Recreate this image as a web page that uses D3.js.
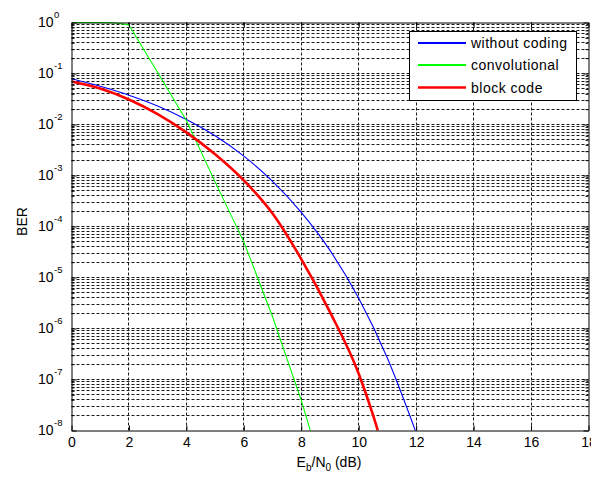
<!DOCTYPE html>
<html><head><meta charset="utf-8">
<script src="https://cdn.jsdelivr.net/npm/d3@7"></script>
<style>
body{margin:0;background:#fff;}
text{font-family:"Liberation Sans",Arial,sans-serif;fill:#000;}
</style>
</head><body>
<svg id="c" width="591" height="477"></svg>
<script>
// ---- data ----
const xTickValues = [0, 2, 4, 6, 8, 10, 12, 14, 16, 18];
const yTickExponents = [0, -1, -2, -3, -4, -5, -6, -7, -8];

const uncodedX = [0, 1, 2, 3, 4, 5, 6, 7, 8, 9, 10, 11, 12];
const uncodedBER = [0.079, 0.056, 0.0375, 0.023, 0.0125, 6.0e-3, 2.4e-3, 7.7e-4, 1.9e-4, 3.4e-5, 3.9e-6, 2.6e-7, 9e-9];

const convX = [0, 0.5, 1, 1.5, 2, 3, 4, 5, 6, 7, 8, 8.5];
const convBER = [1, 1, 1, 0.99, 0.89, 0.105, 1.2e-2, 7.5e-4, 5e-5, 1.7e-6, 3.9e-8, 4.5e-9];

const blockX = [0, 1, 2, 3, 4, 5, 6, 7, 8, 9, 10, 10.5, 11];
const blockBER = [0.07, 0.051, 0.031, 0.016, 7.0e-3, 2.6e-3, 8.0e-4, 1.8e-4, 2.3e-5, 2.1e-6, 1.3e-7, 2.0e-8, 2.2e-9];

const legendLabels = ["without coding", "convolutional", "block code"];
const seriesColors = ["#0000ff", "#00ff00", "#ff0000"];

// ---- layout ----
const W = 591, H = 477;
const L = 71.5, R = 588.5, T = 22.5, B = 430.5;
const FONT = 14;

const svg = d3.select("#c");
svg.append("rect").attr("width", W).attr("height", H).attr("fill", "#fff");

const x = d3.scaleLinear().domain([0, 18]).range([L, R]);
const y = d3.scaleLog().domain([1e-8, 1]).range([B, T]);
const crisp = v => Math.round(v - 0.5) + 0.5;

// ---- grid ----
const minorVals = [];
for (let k = -8; k <= -1; k++) for (let m = 2; m <= 9; m++) minorVals.push(m * Math.pow(10, k));
const majorVals = yTickExponents.map(e => Math.pow(10, e));
const hGrid = majorVals.filter(v => v < 1 && v > 1e-8).concat(minorVals);
const g = svg.append("g").attr("stroke", "#1a1a1a").attr("stroke-width", 1)
  .attr("stroke-dasharray", "3,2").attr("fill", "none");
g.selectAll("line.h").data(hGrid).join("line").attr("class", "h")
  .attr("x1", L).attr("x2", R)
  .attr("y1", d => crisp(y(d))).attr("y2", d => crisp(y(d)));
g.selectAll("line.v").data(xTickValues.filter(d => d > 0 && d < 18)).join("line").attr("class", "v")
  .attr("y1", T).attr("y2", B)
  .attr("x1", d => crisp(x(d))).attr("x2", d => crisp(x(d)));

// ---- curves ----
svg.append("clipPath").attr("id", "clip").append("rect")
  .attr("x", L).attr("y", T - 1).attr("width", R - L).attr("height", B - T + 1);
const plot = svg.append("g").attr("clip-path", "url(#clip)");
const mk = (xs, ys) => xs.map((v, i) => [v, ys[i]]);
const lineSmooth = d3.line().x(d => x(d[0])).y(d => y(d[1])).curve(d3.curveMonotoneX);
const lineStraight = d3.line().x(d => x(d[0])).y(d => y(d[1]));
plot.append("path").datum(mk(uncodedX, uncodedBER)).attr("d", lineSmooth)
  .attr("fill", "none").style("stroke", seriesColors[0]).attr("stroke-width", 1.1);
plot.append("path").datum(mk(convX, convBER)).attr("d", lineStraight)
  .attr("fill", "none").style("stroke", seriesColors[1]).attr("stroke-width", 1.1);
plot.append("path").datum(mk(blockX, blockBER)).attr("d", lineSmooth)
  .attr("fill", "none").style("stroke", seriesColors[2]).attr("stroke-width", 2.6);

// ---- axes ----
const xAxisB = d3.axisBottom(x).tickValues(xTickValues).tickSizeInner(-5).tickSizeOuter(0)
  .tickPadding(7).tickFormat(d => d);
const gxb = svg.append("g").attr("transform", `translate(0,${B})`).call(xAxisB);
gxb.selectAll("text").attr("font-size", FONT).style("font-family", "'Liberation Sans',Arial,sans-serif");
svg.append("g").attr("transform", `translate(0,${T})`)
  .call(d3.axisTop(x).tickValues(xTickValues).tickSizeInner(-5).tickSizeOuter(0).tickFormat(""));

svg.append("g").attr("transform", `translate(${L},0)`)
  .call(d3.axisLeft(y).tickValues(majorVals).tickSizeInner(-5).tickSizeOuter(0).tickFormat(""));
svg.append("g").attr("transform", `translate(${L},0)`)
  .call(d3.axisLeft(y).tickValues(minorVals).tickSizeInner(-3).tickSizeOuter(0).tickFormat(""))
  .select(".domain").remove();
svg.append("g").attr("transform", `translate(${R},0)`)
  .call(d3.axisRight(y).tickValues(majorVals).tickSizeInner(-5).tickSizeOuter(0).tickFormat(""));
svg.append("g").attr("transform", `translate(${R},0)`)
  .call(d3.axisRight(y).tickValues(minorVals).tickSizeInner(-3).tickSizeOuter(0).tickFormat(""))
  .select(".domain").remove();
svg.selectAll(".tick line").attr("stroke", "#000");
svg.selectAll(".domain").attr("stroke", "#000");

// y tick labels 10^e
const lab = svg.append("g");
yTickExponents.forEach(e => {
  const yy = y(Math.pow(10, e));
  lab.append("text").attr("x", 53.5).attr("y", yy + 4.5).attr("text-anchor", "end")
    .attr("font-size", FONT).text("10");
  lab.append("text").attr("x", 54).attr("y", yy - 4.5).attr("text-anchor", "start")
    .attr("font-size", 9.5).text(String(e));
});

// axis titles
const xt = svg.append("text").attr("x", (L + R) / 2 - 1).attr("y", 467).attr("text-anchor", "middle")
  .attr("font-size", FONT);
xt.append("tspan").text("E");
xt.append("tspan").attr("font-size", 10).attr("dy", 4).text("b");
xt.append("tspan").attr("dy", -4).text("/N");
xt.append("tspan").attr("font-size", 10).attr("dy", 4).text("0");
xt.append("tspan").attr("dy", -4).text(" (dB)");

svg.append("text").attr("transform", `translate(27,${(T + B) / 2 - 5}) rotate(-90)`)
  .attr("text-anchor", "middle").attr("font-size", FONT).text("BER");

// ---- legend ----
const lg = svg.append("g");
lg.append("rect").attr("x", 409.5).attr("y", 31.5).attr("width", 167).attr("height", 69)
  .style("fill", "#fff").style("stroke", "#000").attr("stroke-width", 1);
const legendY = [43, 65, 87.5];
const legendW = [1.8, 1.8, 2.6];
legendLabels.forEach((t, i) => {
  lg.append("path")
    .attr("d", d3.line()([[418, legendY[i]], [466, legendY[i]]]))
    .style("fill", "none").style("stroke", seriesColors[i]).style("stroke-width", legendW[i]);
  lg.append("text").attr("x", 471).attr("y", legendY[i] + 5).attr("font-size", FONT)
    .attr("letter-spacing", 0.5).text(t);
});
</script>
</body></html>
